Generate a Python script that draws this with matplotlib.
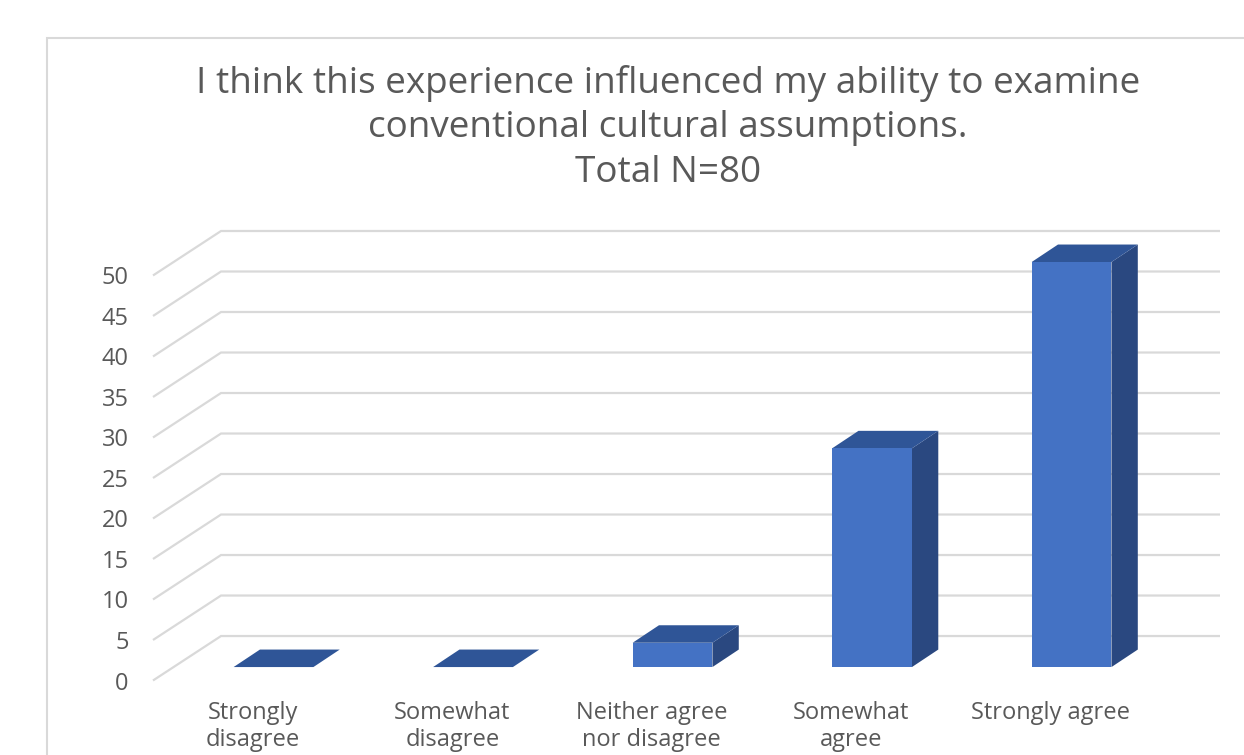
import matplotlib
matplotlib.use("Agg")
import matplotlib.pyplot as plt
from matplotlib.patches import Polygon, Rectangle

plt.rcParams['font.family'] = ['Open Sans', 'DejaVu Sans']

categories = ["Strongly\ndisagree", "Somewhat\ndisagree", "Neither agree\nnor disagree",
              "Somewhat\nagree", "Strongly agree"]
values = [0, 0, 3, 27, 50]
y_ticks = [0, 5, 10, 15, 20, 25, 30, 35, 40, 45, 50]
title = ("I think this experience influenced my ability to examine\n"
         "conventional cultural assumptions.\nTotal N=80")

W, H = 1244, 755
GRID = "#D9D9D9"
TEXT = "#595959"
FRONT, TOP, SIDE = "#4472C4", "#2F5597", "#2A4880"

fig = plt.figure(figsize=(W / 100, H / 100), dpi=100, facecolor="white")

# chart frame (runs off the right and bottom of the picture)
fig.add_artist(Rectangle((47 / W, -0.05), 1.1, 1.05 - 38 / H, transform=fig.transFigure,
                         facecolor="white", edgecolor=GRID, linewidth=1.5, zorder=-1))

# axes: front plane at x=153 px, baseline y=680.5 px; back wall ends at x=1220, y=231
ax = fig.add_axes([153 / W, 1 - 680.5 / H, (1220 - 153) / W, (680.5 - 231) / H])
wall_dx, wall_dy, x_end = 0.341, 5.49, 5.348
ax.set_xlim(0, x_end)
ax.set_ylim(0, 50 + wall_dy)
ax.patch.set_visible(False)
for s in ax.spines.values():
    s.set_visible(False)

# 3-D style gridlines: a receding diagonal plus the back-wall line
for v in y_ticks:
    ax.plot([0, wall_dx, x_end], [v, v + wall_dy, v + wall_dy],
            color=GRID, lw=1.6, solid_joinstyle="miter", solid_capstyle="butt",
            clip_on=False, zorder=1)

# bars
bar_width = 0.4
off_x, off_y = 0.104, 1.66      # front face sits this far behind the front plane
dep_x, dep_y = 0.132, 2.16      # depth of each bar
for i, v in enumerate(values):
    c = i + 0.5 + off_x
    l, r = c - bar_width / 2, c + bar_width / 2
    b, t = off_y, off_y + v
    ax.add_patch(Polygon([(r, b), (r + dep_x, b + dep_y), (r + dep_x, t + dep_y), (r, t)],
                         facecolor=SIDE, edgecolor="none", zorder=3))
    ax.add_patch(Polygon([(l, t), (r, t), (r + dep_x, t + dep_y), (l + dep_x, t + dep_y)],
                         facecolor=TOP, edgecolor="none", zorder=3))
ax.bar([i + 0.5 + off_x for i in range(len(values))], values, width=bar_width,
       bottom=off_y, color=FRONT, zorder=4)

# axis labels
ax.set_yticks(y_ticks)
ax.set_yticklabels([str(v) for v in y_ticks], fontsize=17, color=TEXT)
ax.set_xticks([i + 0.5 for i in range(len(categories))])
ax.set_xticklabels(categories, fontsize=17, color=TEXT, linespacing=1.21, va="top")
ax.tick_params(axis="y", length=0, pad=17.5)
ax.tick_params(axis="x", length=0, pad=14.5)

fig.text(668 / W, 1 - 128 / H, title, ha="center", va="center", fontsize=26.6,
         color=TEXT, linespacing=1.31)

fig.savefig("out.png", dpi=100)
